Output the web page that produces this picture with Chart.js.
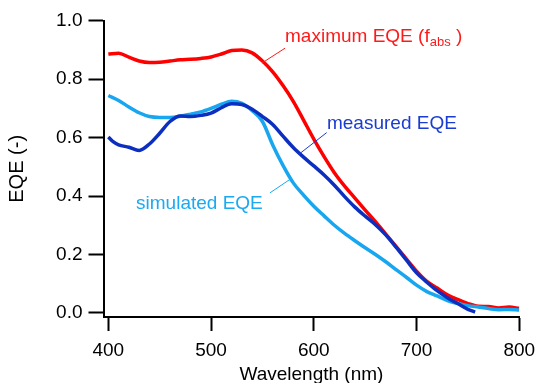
<!DOCTYPE html>
<html>
<head>
<meta charset="utf-8">
<script src="https://cdn.jsdelivr.net/npm/chart.js@4"></script>
<style>
  body { margin: 0; background: #fff; }
  #wrap { width: 537px; height: 383px; position: relative; }
</style>
</head>
<body>
<div id="wrap"><canvas id="eqeChart"></canvas></div>
<script>
// wavelength grid (nm) for the simulated and maximum curves
var wavelengths = [400, 410, 420, 430, 440, 450, 460, 470, 480, 490, 500, 510, 520, 530, 540, 550,
    560, 570, 580, 590, 600, 610, 620, 630, 640, 650, 660, 670, 680, 690, 700, 710, 720, 730, 740,
    750, 760, 770, 780, 790, 800];
var maxEqe = [0.886, 0.889, 0.875, 0.862, 0.857, 0.858, 0.862, 0.866, 0.868, 0.871, 0.876, 0.886,
    0.898, 0.900, 0.890, 0.862, 0.825, 0.778, 0.724, 0.660, 0.595, 0.535, 0.480, 0.434, 0.393,
    0.352, 0.312, 0.270, 0.228, 0.185, 0.143, 0.108, 0.085, 0.062, 0.046, 0.032, 0.023, 0.022,
    0.017, 0.020, 0.015];
var simEqe = [0.744, 0.727, 0.705, 0.685, 0.672, 0.669, 0.669, 0.673, 0.680, 0.688, 0.700, 0.714,
    0.724, 0.717, 0.692, 0.655, 0.575, 0.505, 0.445, 0.403, 0.365, 0.332, 0.300, 0.272, 0.247,
    0.223, 0.200, 0.175, 0.148, 0.122, 0.095, 0.073, 0.058, 0.042, 0.032, 0.025, 0.020, 0.015,
    0.011, 0.012, 0.010];
// measured curve stops at ~757 nm
var measWavelengths = [400, 405, 410, 420, 430, 440, 450, 460, 470, 480, 490, 500, 510, 520, 530,
    540, 550, 560, 570, 580, 590, 600, 610, 620, 630, 640, 650, 660, 670, 680, 690, 700, 710, 720,
    730, 740, 750, 757];
var measEqe = [0.602, 0.585, 0.575, 0.567, 0.556, 0.578, 0.615, 0.655, 0.674, 0.672, 0.676, 0.684,
    0.702, 0.716, 0.713, 0.697, 0.672, 0.645, 0.605, 0.566, 0.533, 0.503, 0.472, 0.437, 0.398,
    0.362, 0.331, 0.302, 0.267, 0.225, 0.181, 0.137, 0.105, 0.076, 0.052, 0.032, 0.012, 0.003];

var xTicks = [400, 500, 600, 700, 800];
var yTicks = [0, 0.2, 0.4, 0.6, 0.8, 1.0];

function toPoints(xs, ys) {
    return xs.map(function (x, i) { return { x: x, y: ys[i] }; });
}

// curve labels with leader lines, placed in data units
var notes = [
    { parts: [['maximum EQE (f', 19, 0], ['abs', 13, 4], [' )', 19, 0]], color: '#ff1a1a',
      at: [572.0, 0.928], from: [572.0, 0.906], to: [549.5, 0.855] },
    { parts: [['measured EQE', 19, 0]], color: '#1a3cd0',
      at: [612.8, 0.629], from: [612.5, 0.617], to: [585.9, 0.544] },
    { parts: [['simulated EQE', 19, 0]], color: '#1aa9f2',
      at: [427.0, 0.356], from: [557.4, 0.411], to: [578.5, 0.461] }
];

var notePlugin = {
    id: 'curveNotes',
    afterDatasetsDraw: function (chart) {
        var ctx = chart.ctx, sx = chart.scales.x, sy = chart.scales.y;
        ctx.save();
        notes.forEach(function (n) {
            ctx.strokeStyle = n.color;
            ctx.lineWidth = 1;
            ctx.beginPath();
            ctx.moveTo(sx.getPixelForValue(n.from[0]), sy.getPixelForValue(n.from[1]));
            ctx.lineTo(sx.getPixelForValue(n.to[0]), sy.getPixelForValue(n.to[1]));
            ctx.stroke();
            var px = sx.getPixelForValue(n.at[0]), py = sy.getPixelForValue(n.at[1]);
            ctx.fillStyle = n.color;
            ctx.textAlign = 'left';
            ctx.textBaseline = 'alphabetic';
            n.parts.forEach(function (p) {
                ctx.font = p[1] + 'px "Liberation Sans", Arial, sans-serif';
                ctx.fillText(p[0], px, py + p[2]);
                px += ctx.measureText(p[0]).width;
            });
        });
        ctx.restore();
    }
};

document.addEventListener('DOMContentLoaded', function () {
    Chart.defaults.font.family = '"Liberation Sans", Arial, sans-serif';
    Chart.defaults.font.size = 19;
    Chart.defaults.color = '#000';

    var ctx = document.getElementById('eqeChart').getContext('2d');
    var eqeChart = new Chart(ctx, {
        type: 'line',
        data: {
            datasets: [{
                label: 'measured EQE',
                data: toPoints(measWavelengths, measEqe),
                borderColor: '#0c2fbf',
                order: 0
            }, {
                label: 'simulated EQE',
                data: toPoints(wavelengths, simEqe),
                borderColor: '#17a6ef',
                order: 1
            }, {
                label: 'maximum EQE',
                data: toPoints(wavelengths, maxEqe),
                borderColor: '#ff0000',
                order: 2
            }]
        },
        options: {
            responsive: true,
            maintainAspectRatio: false,
            animation: false,
            layout: { padding: { left: 0, right: 17.7, top: 20.7, bottom: 0 } },
            elements: {
                point: { radius: 0 },
                line: { borderWidth: 3.5, fill: false, cubicInterpolationMode: 'monotone' }
            },
            plugins: {
                legend: { display: false },
                tooltip: { enabled: false }
            },
            scales: {
                x: {
                    type: 'linear',
                    min: 395.3,
                    max: 800,
                    afterBuildTicks: function (scale) {
                        scale.ticks = xTicks.map(function (v) { return { value: v }; });
                    },
                    afterFit: function (scale) {
                        scale.height = 66;
                        scale.paddingLeft = 0;
                        scale.paddingRight = 0;
                    },
                    ticks: { padding: 8, maxRotation: 0, callback: function (v) { return String(v); } },
                    grid: { drawOnChartArea: false, drawTicks: true, tickLength: 14, tickWidth: 2, tickColor: '#000' },
                    border: { display: true, color: '#000', width: 2 },
                    title: {
                        display: true,
                        text: 'Wavelength (nm)',
                        font: { size: 19, lineHeight: 0.85 },
                        padding: { top: 0, bottom: 0 }
                    }
                },
                y: {
                    min: -0.014,
                    max: 1.0,
                    afterBuildTicks: function (scale) {
                        scale.ticks = yTicks.map(function (v) { return { value: v }; });
                    },
                    afterFit: function (scale) {
                        scale.width = 103.5;
                        scale.paddingTop = 0;
                        scale.paddingBottom = 0;
                    },
                    ticks: { padding: 6, callback: function (v) { return v.toFixed(1); } },
                    grid: { drawOnChartArea: false, drawTicks: true, tickLength: 15, tickWidth: 2, tickColor: '#000' },
                    border: { display: true, color: '#000', width: 2 },
                    title: {
                        display: true,
                        text: 'EQE (-)',
                        font: { size: 20, lineHeight: 0.85 },
                        padding: { top: 9, bottom: 0 }
                    }
                }
            }
        },
        plugins: [notePlugin]
    });
});
</script>
</body>
</html>
